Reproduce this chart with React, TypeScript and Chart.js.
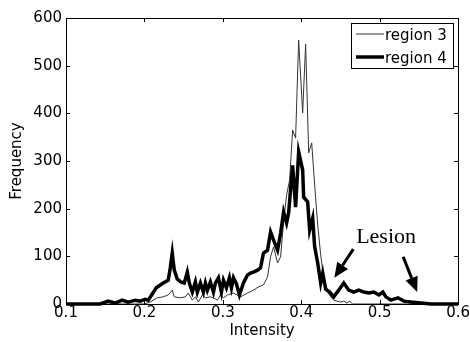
import React, { useEffect, useRef } from "react";
import { Chart, registerables } from "chart.js";

Chart.register(...registerables);

// ---- data ----
const seriesLabels = ["region 3", "region 4"];

const region3X = [
  0.1, 0.2, 0.2074, 0.2164, 0.224, 0.2304, 0.2355, 0.2381, 0.2458, 0.2522, 0.256, 0.2611,
  0.265, 0.2688, 0.2739, 0.2778, 0.2841, 0.288, 0.2931, 0.2969, 0.3008, 0.3059, 0.3136,
  0.3225, 0.3315, 0.3392, 0.3455, 0.3519, 0.357, 0.3609, 0.3647, 0.3698, 0.3737, 0.3775,
  0.3813, 0.3852, 0.389, 0.3928, 0.3967, 0.4018, 0.4056, 0.4095, 0.4133, 0.4171, 0.421,
  0.4248, 0.4286, 0.4338, 0.4376, 0.4414, 0.4504, 0.4542, 0.4581, 0.4619, 0.4657, 0.6,
];
const region3Y = [
  0, 0, 4, 13, 15, 19, 29, 15, 13, 15, 23, 8,
  15, 4, 19, 13, 15, 13, 8, 19, 13, 19, 23,
  15, 23, 29, 36, 40, 57, 99, 120, 86, 99, 172,
  229, 260, 365, 348, 554, 401, 545, 317, 338, 250, 166,
  103, 55, 25, 15, 8, 4, 6, 2, 6, 0, 0,
];

const region4X = [
  0.1, 0.1435, 0.1537, 0.1627, 0.1716, 0.1793, 0.1882, 0.1946, 0.201, 0.2049, 0.21, 0.2151,
  0.224, 0.2304, 0.233, 0.2355, 0.2381, 0.2419, 0.2471, 0.2509, 0.2547, 0.2573, 0.2611,
  0.265, 0.2675, 0.2714, 0.2752, 0.2778, 0.2803, 0.2841, 0.288, 0.2905, 0.2944, 0.2982,
  0.3008, 0.3046, 0.3084, 0.311, 0.3136, 0.3174, 0.3212, 0.3263, 0.3315, 0.3353, 0.3392,
  0.3442, 0.3481, 0.3519, 0.357, 0.3609, 0.3647, 0.3698, 0.3737, 0.3775, 0.3813, 0.3839,
  0.389, 0.3928, 0.3967, 0.4018, 0.4031, 0.4082, 0.4107, 0.4146, 0.4171, 0.421, 0.4248,
  0.4274, 0.4312, 0.4363, 0.4414, 0.4478, 0.4542, 0.4606, 0.467, 0.4734, 0.4798, 0.4862,
  0.4926, 0.499, 0.5041, 0.5079, 0.5143, 0.5233, 0.5309, 0.5399, 0.5527, 0.5655, 0.6,
];
const region4Y = [
  0, 0, 6, 2, 8, 4, 8, 6, 10, 8, 21, 34,
  44, 50, 76, 107, 71, 52, 46, 44, 67, 44, 25,
  46, 25, 44, 25, 44, 29, 46, 25, 44, 55, 25,
  50, 34, 55, 34, 55, 42, 19, 44, 61, 65, 67,
  71, 76, 107, 113, 151, 134, 113, 149, 193, 170, 191,
  291, 203, 319, 281, 224, 214, 155, 180, 120, 86, 44,
  65, 31, 25, 15, 29, 44, 29, 25, 29, 25, 23,
  25, 19, 25, 15, 8, 13, 6, 4, 2, 0, 0,
];

const xAxisMin = 0.1;
const xAxisMax = 0.6;
const xTickStep = 0.1;
const yAxisMin = 0;
const yAxisMax = 600;
const yTickStep = 100;
const xAxisTitle = "Intensity";
const yAxisTitle = "Frequency";

const annotationText = "Lesion";
const annotationTextAt = { x: 0.47, y: 128 };
const annotationArrows = [
  { fromX: 0.4664, fromY: 115, toX: 0.4422, toY: 55 },
  { fromX: 0.53, fromY: 99, toX: 0.5478, toY: 25 },
];

const SANS = "'DejaVu Sans', 'Liberation Sans', sans-serif";
const SERIF = "'Liberation Serif', 'DejaVu Serif', serif";

const framePlugin = {
  id: "frameTicks",
  afterDatasetsDraw(chart: any) {
    const { ctx, chartArea } = chart;
    const { left, right, top, bottom } = chartArea;
    const xs = chart.scales.x;
    const ys = chart.scales.y;
    ctx.save();
    ctx.strokeStyle = "#000";
    ctx.lineWidth = 1;
    ctx.beginPath();
    ctx.rect(Math.round(left) + 0.5, Math.round(top) + 0.5, Math.round(right - left), Math.round(bottom - top));
    ctx.stroke();
    const tl = 4;
    ctx.beginPath();
    xs.ticks.forEach((t: any) => {
      const px = Math.round(xs.getPixelForValue(t.value)) + 0.5;
      ctx.moveTo(px, bottom);
      ctx.lineTo(px, bottom - tl);
      ctx.moveTo(px, top);
      ctx.lineTo(px, top + tl);
    });
    ys.ticks.forEach((t: any) => {
      const py = Math.round(ys.getPixelForValue(t.value)) + 0.5;
      ctx.moveTo(left, py);
      ctx.lineTo(left + tl, py);
      ctx.moveTo(right, py);
      ctx.lineTo(right - tl, py);
    });
    ctx.stroke();
    ctx.restore();
  },
  afterDraw(chart: any) {
    const { ctx, chartArea } = chart;
    const xs = chart.scales.x;
    const ys = chart.scales.y;
    ctx.save();

    // legend box
    const boxRight = Math.round(chartArea.right) - 5;
    const boxLeft = boxRight - 102;
    const boxTop = Math.round(chartArea.top) + 5;
    const boxH = 45;
    ctx.fillStyle = "#fff";
    ctx.fillRect(boxLeft, boxTop, boxRight - boxLeft, boxH);
    ctx.strokeStyle = "#000";
    ctx.lineWidth = 1;
    ctx.strokeRect(boxLeft + 0.5, boxTop + 0.5, boxRight - boxLeft, boxH);
    ctx.font = `15px ${SANS}`;
    ctx.textBaseline = "middle";
    ctx.textAlign = "left";
    chart.data.datasets.forEach((ds: any, i: number) => {
      const rowY = boxTop + 11 + i * 23;
      ctx.strokeStyle = ds.borderColor;
      ctx.lineWidth = ds.borderWidth;
      ctx.beginPath();
      ctx.moveTo(boxLeft + 5, rowY);
      ctx.lineTo(boxLeft + 33, rowY);
      ctx.stroke();
      ctx.fillStyle = "#000";
      ctx.fillText(ds.label, boxLeft + 34, rowY + 2);
    });

    // annotation text
    ctx.fillStyle = "#000";
    ctx.font = `22px ${SERIF}`;
    ctx.textBaseline = "alphabetic";
    ctx.textAlign = "left";
    ctx.fillText(annotationText, xs.getPixelForValue(annotationTextAt.x), ys.getPixelForValue(annotationTextAt.y));

    // arrows
    annotationArrows.forEach((a) => {
      const x1 = xs.getPixelForValue(a.fromX);
      const y1 = ys.getPixelForValue(a.fromY);
      const x2 = xs.getPixelForValue(a.toX);
      const y2 = ys.getPixelForValue(a.toY);
      const ang = Math.atan2(y2 - y1, x2 - x1);
      const headLen = 15;
      const headHalf = 6.5;
      const bx = x2 - headLen * Math.cos(ang);
      const by = y2 - headLen * Math.sin(ang);
      ctx.strokeStyle = "#000";
      ctx.lineWidth = 3;
      ctx.beginPath();
      ctx.moveTo(x1, y1);
      ctx.lineTo(bx, by);
      ctx.stroke();
      ctx.fillStyle = "#000";
      ctx.beginPath();
      ctx.moveTo(x2, y2);
      ctx.lineTo(bx + headHalf * Math.sin(ang), by - headHalf * Math.cos(ang));
      ctx.lineTo(bx - headHalf * Math.sin(ang), by + headHalf * Math.cos(ang));
      ctx.closePath();
      ctx.fill();
    });
    ctx.restore();
  },
};

export default function App() {
  const canvasRef = useRef<HTMLCanvasElement | null>(null);

  useEffect(() => {
    document.body.style.margin = "0";
    const canvas = canvasRef.current;
    if (!canvas) return;
    const chart = new Chart(canvas, {
      type: "line",
      data: {
        datasets: [
          {
            label: seriesLabels[0],
            data: region3X.map((x, i) => ({ x, y: region3Y[i] })),
            borderColor: "#333",
            borderWidth: 1,
            pointRadius: 0,
            tension: 0,
            fill: false,
            order: 1,
            clip: 6,
          },
          {
            label: seriesLabels[1],
            data: region4X.map((x, i) => ({ x, y: region4Y[i] })),
            borderColor: "#000",
            borderWidth: 3.5,
            pointRadius: 0,
            tension: 0,
            fill: false,
            order: 0,
            clip: 6,
          },
        ],
      },
      options: {
        animation: false,
        responsive: false,
        maintainAspectRatio: false,
        devicePixelRatio: 1,
        layout: { padding: { top: 18, right: 11, left: 0, bottom: 0 } },
        plugins: {
          legend: { display: false },
          tooltip: { enabled: false },
          title: { display: false },
        },
        scales: {
          x: {
            type: "linear",
            min: xAxisMin,
            max: xAxisMax,
            afterFit: (s: any) => {
              s.height = 38;
            },
            ticks: {
              stepSize: xTickStep,
              color: "#000",
              font: { family: SANS, size: 15 },
              padding: 0,
              maxRotation: 0,
              callback: (v: any) => Number(v).toFixed(1),
            },
            grid: { display: false, drawTicks: false },
            border: { display: true, color: "#000", width: 1 },
            title: {
              display: true,
              text: xAxisTitle,
              color: "#000",
              font: { family: SANS, size: 15 },
              padding: { top: 0, bottom: 2 },
            },
          },
          y: {
            type: "linear",
            min: yAxisMin,
            max: yAxisMax,
            afterFit: (s: any) => {
              s.width = 66;
            },
            ticks: {
              stepSize: yTickStep,
              color: "#000",
              font: { family: SANS, size: 15 },
              padding: 4,
            },
            grid: { display: false, drawTicks: false },
            border: { display: true, color: "#000", width: 1 },
            title: {
              display: true,
              text: yAxisTitle,
              color: "#000",
              font: { family: SANS, size: 15 },
              padding: { top: 8, bottom: 0 },
            },
          },
        },
      },
      plugins: [framePlugin],
    });
    return () => {
      chart.destroy();
    };
  }, []);

  return (
    <div style={{ width: 470, height: 342 }}>
      <canvas ref={canvasRef} width={470} height={342} style={{ display: "block" }} />
    </div>
  );
}
